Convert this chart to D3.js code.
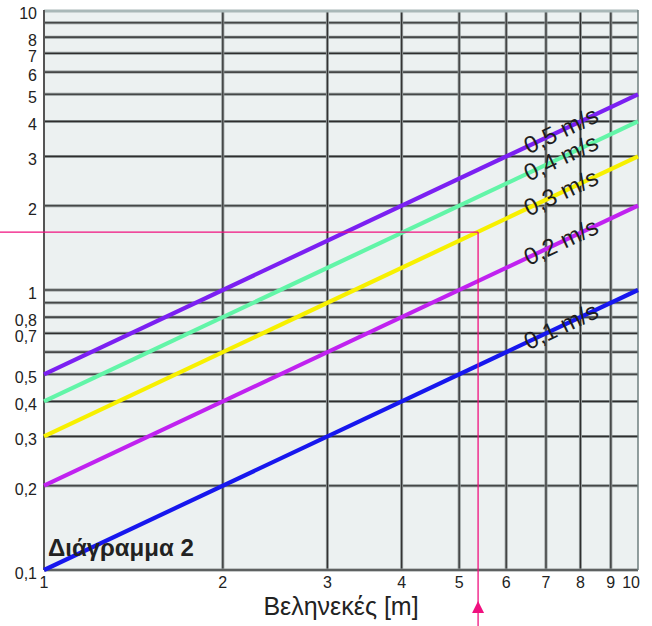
<!DOCTYPE html>
<html><head><meta charset="utf-8">
<script src="https://cdn.jsdelivr.net/npm/d3@7"></script>
<style>body{margin:0;background:#fff;} svg{display:block;}</style>
</head><body>
<svg id="chart" width="652" height="626"></svg>
<script>
// Data
const speeds = ["0,1 m/s","0,2 m/s","0,3 m/s","0,4 m/s","0,5 m/s"];
const xStart = [1,1,1,1,1];
const xEnd = [10,10,10,10,10];
const yStart = [0.1,0.2,0.3,0.4,0.5];
const yEnd = [1,2,3,4,5];
const colors = ["#1717ee","#c022f0","#f7f000","#62f5a8","#7b20f2"];
const xGrid = [2,3,4,5,6,7,8,9];
const yGrid = [0.2,0.3,0.4,0.5,0.6,0.7,0.8,0.9,1,2,3,4,5,6,7,8,9];
const xTickVals = [1,2,3,4,5,6,7,8,9,10];
const xTickLabels = ["1","2","3","4","5","6","7","8","9","10"];
const yTickVals = [0.1,0.2,0.3,0.4,0.5,0.7,0.8,1,2,3,4,5,6,7,8,10];
const yTickLabels = ["0,1","0,2","0,3","0,4","0,5","0,7","0,8","1","2","3","4","5","6","7","8","10"];
const example = {x:5.38, y:1.61};
const labelX = 7.42;

const svg = d3.select("#chart");
const L=44, R=638, T=10, B=570;
const x = d3.scaleLog().domain([1,10]).range([L,R]);
const y = d3.scaleLog().domain([0.1,10]).range([B,T]);
const font = "'Liberation Sans',Arial,sans-serif";

svg.append("rect").attr("x",L).attr("y",T).attr("width",R-L).attr("height",B-T).attr("fill","#ecf1f1");

const g = svg.append("g");
// gridlines
yGrid.forEach(v=>{
  g.append("line").attr("x1",L).attr("x2",R).attr("y1",y(v)).attr("y2",y(v)).attr("stroke","#8d9494").attr("stroke-width",3);
  g.append("line").attr("x1",L).attr("x2",R).attr("y1",y(v)).attr("y2",y(v)).attr("stroke","#2e2e2e").attr("stroke-width",1.1);
});
xGrid.forEach(v=>{
  g.append("line").attr("y1",T).attr("y2",B).attr("x1",x(v)).attr("x2",x(v)).attr("stroke","#8d9494").attr("stroke-width",3);
  g.append("line").attr("y1",T).attr("y2",B).attr("x1",x(v)).attr("x2",x(v)).attr("stroke","#2e2e2e").attr("stroke-width",1.1);
});
// border
svg.append("line").attr("x1",L).attr("x2",R).attr("y1",T+1).attr("y2",T+1).attr("stroke","#a9b8b8").attr("stroke-width",3);
svg.append("line").attr("x1",L).attr("x2",R).attr("y1",B).attr("y2",B).attr("stroke","#8d9494").attr("stroke-width",3);
svg.append("line").attr("x1",L).attr("x2",R).attr("y1",B).attr("y2",B).attr("stroke","#2e2e2e").attr("stroke-width",1);
svg.append("line").attr("x1",L).attr("x2",L).attr("y1",T).attr("y2",B).attr("stroke","#555").attr("stroke-width",2);
svg.append("line").attr("x1",R).attr("x2",R).attr("y1",T).attr("y2",B).attr("stroke","#6f7f7f").attr("stroke-width",1.5);

// series lines
speeds.forEach((s,i)=>{
  svg.append("line")
    .attr("x1",x(xStart[i])).attr("y1",y(yStart[i]))
    .attr("x2",x(xEnd[i])).attr("y2",y(yEnd[i]))
    .attr("stroke",colors[i]).attr("stroke-width",4.2).attr("stroke-linecap","butt");
});

// example pink lines
const pink="#f0117f";
svg.append("line").attr("x1",0).attr("x2",x(example.x)).attr("y1",y(example.y)).attr("y2",y(example.y)).attr("stroke",pink).attr("stroke-width",1.3);
svg.append("line").attr("x1",x(example.x)).attr("x2",x(example.x)).attr("y1",y(example.y)).attr("y2",626).attr("stroke",pink).attr("stroke-width",1.3);
const ax = x(example.x);
svg.append("path").attr("d",`M${ax},601 L${ax-6},613 L${ax+6},613 Z`).attr("fill",pink);

// labels along lines
const ang = -Math.atan((y(1)-y(10))/(x(10)-x(1)))*180/Math.PI;
speeds.forEach((s,i)=>{
  const t = Math.log10(labelX);
  const ly = Math.pow(10, Math.log10(yStart[i]) + t*(Math.log10(yEnd[i])-Math.log10(yStart[i])));
  const px = x(labelX), py = y(ly);
  svg.append("text").attr("transform",`translate(${px},${py}) rotate(${ang})`)
    .attr("text-anchor","middle").attr("dy","0.33em")
    .attr("font-family",font).attr("font-size",24).attr("fill","#1e1e1e")
    .text(s);
});

// y tick labels
yTickVals.forEach((v,i)=>{
  svg.append("text").attr("x",37).attr("y",y(v)).attr("dy","0.55em")
    .attr("text-anchor","end").attr("font-family",font).attr("font-size",16).attr("fill","#222")
    .text(yTickLabels[i]);
});
// x tick labels
xTickVals.forEach((v,i)=>{
  const last = i===xTickVals.length-1;
  svg.append("text").attr("x",last? x(v)+2 : x(v)).attr("y",588)
    .attr("text-anchor",last?"end":"middle").attr("font-family",font).attr("font-size",16).attr("fill","#222")
    .text(xTickLabels[i]);
});
// axis title
svg.append("text").attr("x",341).attr("y",615).attr("text-anchor","middle")
  .attr("font-family",font).attr("font-size",25).attr("fill","#222")
  .text("Βεληνεκές [m]");
// diagram title
svg.append("text").attr("x",48).attr("y",556)
  .attr("font-family",font).attr("font-weight","bold").attr("font-size",24).attr("fill","#222")
  .text("Διάγραμμα 2");
</script>
</body></html>
